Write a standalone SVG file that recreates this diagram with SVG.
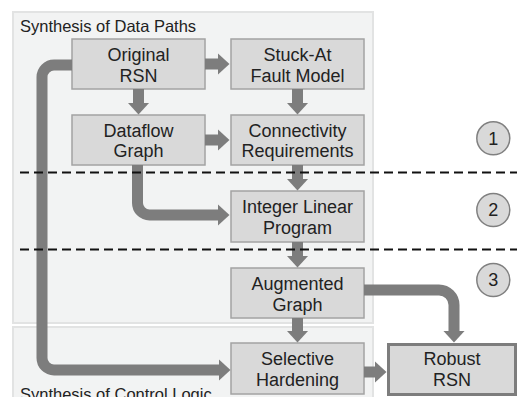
<svg xmlns="http://www.w3.org/2000/svg" width="517" height="397" viewBox="0 0 517 397">
<style>
.panel{fill:#f2f3f3;stroke:#e2e3e3;stroke-width:2}
.box{fill:#d9d9d9;stroke:#a3a3a3;stroke-width:1.5}
.t{font-family:"Liberation Sans",Arial,sans-serif;font-size:18px;fill:#222;text-anchor:middle}
.title{font-family:"Liberation Sans",Arial,sans-serif;font-size:16.5px;fill:#222}
.arr{fill:none;stroke:#7d7d7d;stroke-width:11;marker-end:url(#ah)}
.dash{stroke:#111;stroke-width:2;stroke-dasharray:9 5;fill:none}
.circ{fill:#d9d9d9;stroke:#808080;stroke-width:1.5}
</style>
<defs>
<marker id="ah" viewBox="0 0 12 22" refX="0.5" refY="11" markerWidth="12" markerHeight="22" markerUnits="userSpaceOnUse" orient="auto">
<path d="M0,0 L12,11 L0,22 Z" fill="#7d7d7d"/>
</marker>
</defs>
<g id="panel-data">
<rect class="panel" x="13" y="12" width="360" height="311"/>
<text class="title" x="20" y="32">Synthesis of Data Paths</text>
</g>
<g id="panel-control">
<rect class="panel" x="13" y="327" width="360" height="80"/>
<text class="title" x="20" y="400">Synthesis of Control Logic</text>
</g>
<g id="original-rsn">
<rect class="box" x="72" y="39" width="133" height="50"/>
<text class="t" x="138.5" y="61">Original</text>
<text class="t" x="138.5" y="82">RSN</text>
</g>
<g id="stuck-at">
<rect class="box" x="231" y="39" width="133" height="50"/>
<text class="t" x="297.5" y="61">Stuck-At</text>
<text class="t" x="297.5" y="82">Fault Model</text>
</g>
<g id="dataflow-graph">
<rect class="box" x="72" y="115" width="133" height="50"/>
<text class="t" x="138.5" y="137">Dataflow</text>
<text class="t" x="138.5" y="157">Graph</text>
</g>
<g id="connectivity">
<rect class="box" x="231" y="115" width="133" height="50"/>
<text class="t" x="297.5" y="137">Connectivity</text>
<text class="t" x="297.5" y="157">Requirements</text>
</g>
<g id="ilp">
<rect class="box" x="231" y="191" width="133" height="51"/>
<text class="t" x="297.5" y="213">Integer Linear</text>
<text class="t" x="297.5" y="234">Program</text>
</g>
<g id="augmented-graph">
<rect class="box" x="231" y="268" width="133" height="50"/>
<text class="t" x="297.5" y="290">Augmented</text>
<text class="t" x="297.5" y="311">Graph</text>
</g>
<g id="selective-hardening">
<rect class="box" x="231" y="343" width="133" height="51"/>
<text class="t" x="297.5" y="365">Selective</text>
<text class="t" x="297.5" y="386">Hardening</text>
</g>
<g id="robust-rsn">
<rect x="388.5" y="344.5" width="127" height="50" fill="#d9d9d9" stroke="#7d7d7d" stroke-width="3"/>
<text class="t" x="452" y="365">Robust</text>
<text class="t" x="452" y="386">RSN</text>
</g>
<g id="connectors">
<path class="arr" d="M205,64 H218"/>
<path class="arr" d="M138.5,89 V103"/>
<path class="arr" d="M297.5,89 V103"/>
<path class="arr" d="M205,140 H218"/>
<path class="arr" d="M297.5,165 V179"/>
<path class="arr" d="M137.5,165 V203 A12,12 0 0 0 149.5,215 H218"/>
<path class="arr" d="M297.5,242 V256"/>
<path class="arr" d="M297.5,318 V331"/>
<path class="arr" d="M364,290 H439 A15,15 0 0 1 454,305 V331"/>
<path class="arr" d="M364,372 H375"/>
<path class="arr" d="M72,65 H54 A12,12 0 0 0 42,77 V358 A12,12 0 0 0 54,370 H219"/>
</g>
<g id="phase-separators">
<line class="dash" x1="20" y1="172.5" x2="517" y2="172.5"/>
<line class="dash" x1="20" y1="249.5" x2="517" y2="249.5"/>
</g>
<g id="phase-1">
<circle class="circ" cx="493.3" cy="138.3" r="16.5"/>
<text class="t" x="493.3" y="144.5">1</text>
</g>
<g id="phase-2">
<circle class="circ" cx="493.3" cy="210" r="16.5"/>
<text class="t" x="493.3" y="216.2">2</text>
</g>
<g id="phase-3">
<circle class="circ" cx="493.3" cy="280" r="16.5"/>
<text class="t" x="493.3" y="286.2">3</text>
</g>
</svg>
